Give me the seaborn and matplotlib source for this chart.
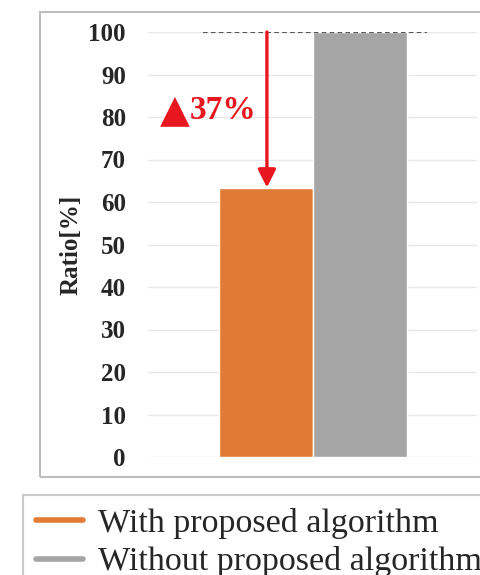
import matplotlib
matplotlib.use("Agg")
import matplotlib.pyplot as plt
from matplotlib.lines import Line2D
from matplotlib.patches import Rectangle
import seaborn as sns
import pandas as pd

# ---- data ----
groups = ["Ratio"]
series = ["With proposed algorithm", "Without proposed algorithm"]
values = [63.4, 100]
colors = ["#E07A35", "#A5A5A5"]
yticks = [0, 10, 20, 30, 40, 50, 60, 70, 80, 90, 100]
ylabel = "Ratio[%]"

sns.set_style("white")
plt.rcParams["font.family"] = ["Liberation Serif", "DejaVu Serif"]

df = pd.DataFrame({"group": groups * len(series), "series": series, "ratio": values})

fig = plt.figure(figsize=(4.8, 5.75), dpi=100)
W, H = 480, 575
ax = fig.add_axes([148 / W, (H - 457) / H, 329 / W, 425 / H])

sns.barplot(data=df, x="group", y="ratio", hue="series", hue_order=series,
            palette=colors, saturation=1, width=0.8, legend=False, ax=ax)

ax.set_xlim(-0.7, 0.7)
ax.set_ylim(0, 100)
ax.set_yticks(yticks)
ax.set_yticklabels([str(t) for t in yticks], fontsize=18, fontweight="bold")
ax.set_xticks([])
ax.set_xlabel("")
ax.set_ylabel(ylabel, fontsize=18, fontweight="bold")
ax.yaxis.set_label_coords(-0.20, 0.5)
ax.tick_params(axis="y", length=0, pad=16)
for s in ax.spines.values():
    s.set_visible(False)
ax.yaxis.grid(True, color="#E8E8E8", lw=1)
ax.set_axisbelow(True)

bars = ax.patches
orange, gray = bars[0], bars[1]
top = gray.get_height()
low = orange.get_height()
red = "#E8161E"
# dashed reference line at the baseline level
ax.plot([orange.get_x() - 0.066, gray.get_x() + gray.get_width() + 0.087], [top, top],
        ls=(0, (2.2, 1.6)), color="#555555", lw=1.5, zorder=3)
# arrow
arr_x = orange.get_x() + orange.get_width() / 2 + 0.006
ax.annotate("", xy=(arr_x, low), xytext=(arr_x, top),
            arrowprops=dict(arrowstyle="-|>,head_length=0.6,head_width=0.3", color=red,
                            lw=2.4, mutation_scale=18, shrinkA=0, shrinkB=0), zorder=4)
pct = ax.text(arr_x - 0.045, 81.5, f"{top - low:.0f}%", ha="right", va="center",
              fontsize=24, fontweight="bold", color=red)
ax.annotate("▲", xy=(0, 0.5), xycoords=pct, ha="right", va="center",
            fontsize=28, color=red, family=["DejaVu Sans"])

# outer chart frame
fig.patches.append(Rectangle((40 / W, (H - 477) / H), 1.0, (477 - 12) / H,
                             transform=fig.transFigure, fill=False,
                             edgecolor="#BDBDBD", lw=1.5))

handles = [Line2D([], [], color=c, lw=4) for c in colors]
leg = fig.legend(handles, series, loc="upper left", bbox_to_anchor=(23 / W, (H - 495) / H),
                 borderaxespad=0, frameon=True, fancybox=False, fontsize=24.5,
                 handlelength=1.38, handletextpad=0.44, borderpad=0.38, labelspacing=0.22)
leg.get_frame().set_edgecolor("#BDBDBD")
leg.get_frame().set_linewidth(1.5)

fig.savefig("out.png", dpi=100)
